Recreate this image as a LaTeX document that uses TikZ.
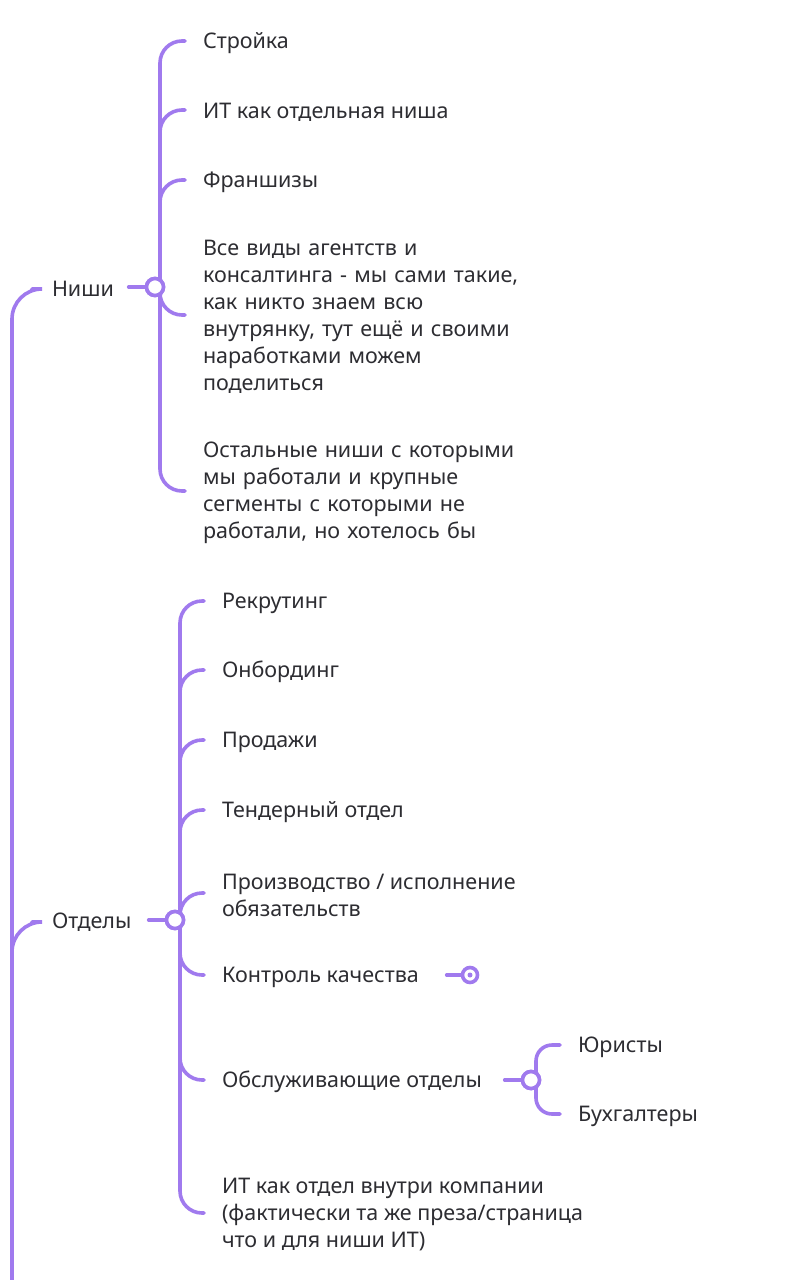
\documentclass[tikz,border=0pt]{standalone}
\usepackage{fontspec}
\setmainfont{Noto Sans}
\usetikzlibrary{positioning}
\definecolor{branchColor}{RGB}{160,122,238}
\definecolor{textColor}{RGB}{45,45,50}
\tikzset{
  topic/.style={text=textColor,anchor=west,inner sep=0pt,outer sep=0pt,yshift=-2pt,align=left,font=\fontsize{21.5}{27}\selectfont},
  branch/.style={draw=branchColor,line width=3.6pt,line cap=round,rounded corners=22pt},
  hub/.style={circle,draw=branchColor,line width=3.6pt,fill=white,minimum size=17pt,inner sep=0pt}
}
\begin{document}
\begin{tikzpicture}[x=1pt,y=1pt]
\path[use as bounding box,fill=white] (0,0) rectangle (801,-1280);
% main topics
\node[topic] (nishi) at (52,-287) {Ниши};
\node[topic] (otdely) at (52,-920) {Отделы};
\coordinate (root) at (12,-1285);
\draw[branch,rounded corners=30pt] (root) |- ([xshift=-20pt]nishi.west);
\draw[branch,rounded corners=30pt] (12,-1100) |- ([xshift=-20pt]otdely.west);
% niches
\node[hub] (hubN) at (155,-287) {};
\node[topic] (n1) at (203,-41) {Стройка};
\node[topic] (n2) at (203,-110) {ИТ как отдельная ниша};
\node[topic] (n3) at (203,-180) {Франшизы};
\node[topic,text width=330pt] (n4) at (203,-315) {Все виды агентств и\\консалтинга - мы сами такие,\\как никто знаем всю\\внутрянку, тут ещё и своими\\наработками можем\\поделиться};
\node[topic,text width=330pt] (n5) at (203,-491) {Остальные ниши с которыми\\мы работали и крупные\\сегменты с которыми не\\работали, но хотелось бы};
\draw[branch] ([xshift=-16pt]hubN.west) -- (hubN);
\foreach \c in {n1,n2,n3,n4,n5}
  \draw[branch] (hubN.center) ++(5,0) |- ([xshift=-18pt,yshift=2pt]\c.west);
\node[hub] at (hubN) {};
% departments
\node[hub] (hubO) at (175,-920) {};
\node[topic] (d1) at (222,-601) {Рекрутинг};
\node[topic] (d2) at (222,-670) {Онбординг};
\node[topic] (d3) at (222,-740) {Продажи};
\node[topic] (d4) at (222,-810) {Тендерный отдел};
\node[topic] (d5) at (222,-893) {Производство / исполнение\\обязательств};
\node[topic] (d6) at (222,-975) {Контроль качества};
\node[topic] (d7) at (222,-1080) {Обслуживающие отделы};
\node[topic] (d8) at (222,-1213) {ИТ как отдел внутри компании\\(фактически та же преза/страница\\что и для ниши ИТ)};
\draw[branch] ([xshift=-16pt]hubO.west) -- (hubO);
\foreach \c in {d1,d2,d3,d4,d5,d6,d7,d8}
  \draw[branch] (hubO.center) ++(5,0) |- ([xshift=-18pt,yshift=2pt]\c.west);
\node[hub] at (hubO) {};
% collapsed marker
\node[hub,minimum size=15pt] (fold) at (470,-975) {};
\fill[branchColor] (fold) circle (2.5pt);
\draw[branch] ([xshift=-14pt]fold.west) -- (fold);
% service departments
\node[hub] (hubS) at (531,-1080) {};
\node[topic] (s1) at (578,-1045) {Юристы};
\node[topic] (s2) at (578,-1114) {Бухгалтеры};
\draw[branch] ([xshift=-16pt]hubS.west) -- (hubS);
\foreach \c in {s1,s2}
  \draw[branch,rounded corners=16pt] (hubS.center) ++(5,0) |- ([xshift=-18pt,yshift=2pt]\c.west);
\node[hub] at (hubS) {};
\end{tikzpicture}
\end{document}
